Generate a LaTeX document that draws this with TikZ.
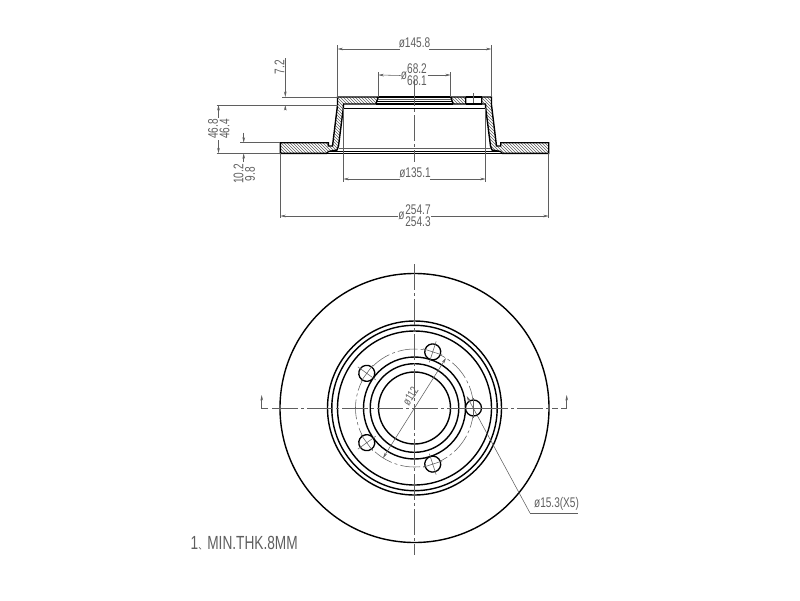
\documentclass[tikz,border=0pt]{standalone}
\usepackage{fontspec}
\newfontfamily\cadfont[FakeStretch=0.72]{Liberation Sans}
\newfontfamily\cjk{Noto Sans CJK SC}
\usetikzlibrary{arrows.meta,patterns}
\definecolor{dimgray}{RGB}{95,95,95}
\begin{document}
\begin{tikzpicture}[x=1pt,y=-1pt,>={Stealth[length=5.5pt,width=2.6pt]},
  outline/.style={line width=1.4pt,black},
  thin line/.style={line width=.55pt,dimgray},
  centre/.style={line width=.6pt,dimgray,dash pattern=on 26pt off 3pt on 3pt off 3pt},
  dimtext/.style={font=\cadfont\fontsize{14}{14}\selectfont,text=dimgray,inner sep=0pt},
  hatched/.style={pattern=north west lines,pattern color=dimgray}]
\useasboundingbox (0,0) rectangle (800,600);
% section view
\draw[outline,hatched] (337.5,97) -- (378.3,97) -- (376.5,102) -- (376,104)
 -- (343.5,104) -- (343.3,108.3) -- (338.5,146) -- (337,150) -- (328.5,151.5)
 -- (326.7,153.3) -- (280.3,153.3) -- (280.3,142.7) -- (328.3,142.7)
 -- (328.3,146) -- (332.5,146) -- (337.5,105) -- cycle;
\draw[outline,hatched] (491.5,97) -- (481.7,97) -- (481.7,104) -- (485.5,104)
 -- (485.7,108.3) -- (490.5,146) -- (492,150) -- (500.5,151.5) -- (502.3,153.3)
 -- (548.7,153.3) -- (548.7,142.7) -- (500.7,142.7) -- (500.7,146)
 -- (496.5,146) -- (491.5,105) -- cycle;
\draw[outline,hatched] (450.7,97) -- (465.7,97) -- (465.7,104) -- (453,104)
 -- (452.5,102) -- cycle;
\draw[outline] (378.3,97) -- (450.7,97) (465.7,97) -- (481.7,97)
 (376.5,101.5) -- (452.5,101.5) (343.5,108.3) -- (485.5,108.3)
 (376,104) -- (453,104) (465.7,104) -- (481.7,104)
 (328.5,151.5) -- (500.5,151.5) (326.7,153.3) -- (502.3,153.3);
\draw[thin line] (378.3,99.3) -- (450.7,99.3) (338.5,148.3) -- (490.5,148.3)
 (473.3,93) -- (473.3,103);
\draw[centre] (414.5,80) -- (414.5,162);
% dimensions of the section view
\node[dimtext] (dia145) at (414.5,43) {ø145.8};
\draw[thin line,->] (400,49) -- (337.5,49);
\draw[thin line,->] (429,49) -- (491.5,49);
\draw[thin line] (337.5,45) -- (337.5,97) (491.5,45) -- (491.5,97);
\node[dimtext] (dia68a) at (417,69) {68.2};
\node[dimtext] (dia68b) at (417,81) {68.1};
\node[dimtext] (dia68) at (404,75.5) {ø};
\draw[thin line,->] (dia68.west) -- (378.3,75);
\draw[thin line,->] (427.5,75) -- (450.7,75);
\draw[thin line] (378.3,72) -- (378.3,97) (450.7,72) -- (450.7,97);
\node[dimtext] (dia135) at (415,173) {ø135.1};
\draw[thin line,->] (400,179) -- (343.3,179);
\draw[thin line,->] (430,179) -- (485.7,179);
\draw[thin line] (343.3,108.3) -- (343.3,182) (485.7,108.3) -- (485.7,182);
\node[dimtext] (dia254a) at (418,210) {254.7};
\node[dimtext] (dia254b) at (418,222) {254.3};
\node[dimtext] (dia254) at (401.5,216) {ø};
\draw[thin line,->] (dia254.west) -- (280.3,216);
\draw[thin line,->] (431,216) -- (548.7,216);
\draw[thin line] (280.3,153.3) -- (280.3,218) (548.7,153.3) -- (548.7,218);
\node[dimtext,rotate=90] (hat72) at (279.5,67) {7.2};
\draw[thin line,->] (285.3,58) -- (285.3,97);
\draw[thin line,->] (285.3,110) -- (285.3,105);
\draw[thin line] (282,97) -- (337.5,97) (216.5,105) -- (337.5,105);
\node[dimtext,rotate=90] (hgt468) at (213,129) {46.8};
\node[dimtext,rotate=90] (hgt464) at (224.5,129) {46.4};
\draw[thin line,->] (218.5,118) -- (218.5,105);
\draw[thin line,->] (218.5,140) -- (218.5,153.3);
\draw[thin line] (216.5,153.3) -- (280.3,153.3) (240,142.7) -- (280.3,142.7);
\node[dimtext,rotate=90] (thk102) at (238.5,174) {10.2};
\node[dimtext,rotate=90] (thk98) at (250,174) {9.8};
\draw[thin line,->] (243.7,132.7) -- (243.7,142.7);
\draw[thin line,->] (243.7,162) -- (243.7,153.3);
% front view
\draw[thin line,dash pattern=on 20pt off 3pt on 3pt off 3pt] (414.5,408) circle (59);
\foreach \r in {134.5,87,82.7,77,51,44.3,36}
\draw[outline] (414.5,408) circle (\r);
\foreach \a in {0,72,144,216,288} {
\begin{scope}[shift={(414.5,408)},rotate=\a]
\draw[line width=1.3pt,fill=white] (59,0) circle (8);
\draw[thin line] (48,0) -- (70,0) (59,-10) -- (59,10);
\end{scope}
}
\draw[centre] (414.5,264) -- (414.5,555);
\draw[centre] (272,408) -- (558,408);
\draw[thin line,->] (268,408) -- (261.7,408) -- (261.7,395);
\draw[thin line,->] (561,408) -- (566.7,408) -- (566.7,395);
\node[dimtext,rotate=57.6,font=\cadfont\fontsize{12}{12}\selectfont] (pcd) at (410.5,396) {ø112};
\draw[thin line,<->] (383,458) -- (446,358);
\node[dimtext] (bolt) at (556.5,504) {ø15.3(X5)};
\coordinate (boltknee) at (530,513);
\coordinate (boltend) at (578,513);
\draw[thin line,->] (boltknee) -- (466.7,396);
\draw[thin line] (boltknee) -- (boltend);
\node[dimtext,anchor=west,font=\cadfont\fontsize{19}{19}\selectfont] (note) at (190.5,543) {1{\cjk\fontsize{9}{9}\selectfont 、}MIN.THK.8MM};
\end{tikzpicture}
\end{document}
